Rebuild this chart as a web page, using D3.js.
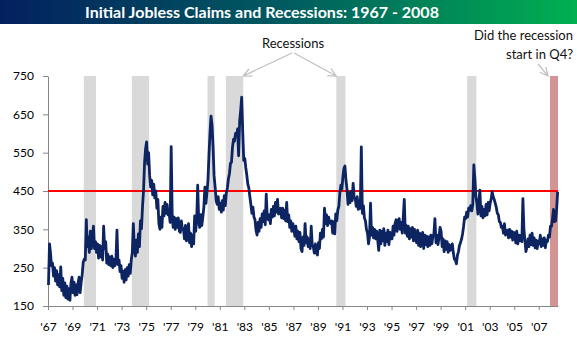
<!DOCTYPE html>
<html>
<head>
<meta charset="utf-8">
<script src="https://cdn.jsdelivr.net/npm/d3@7"></script>
<style>
  html, body { margin: 0; padding: 0; background: #ffffff; }
  svg { display: block; font-family: Lato, "Open Sans", "Noto Sans", sans-serif; }
</style>
</head>
<body>
<svg id="chart" width="577" height="340"></svg>
<script>
// Initial jobless claims (thousands), monthly readings starting January 1967
const startYear = 1967;

const claims1960s = [
  205, 312, 290, 255, 262, 228, 250, 215, 242, 205, 232, 200,
  252, 190, 222, 178, 210, 172, 202, 168, 195, 165, 210, 225,
  185, 212, 178, 205, 180, 210, 225, 185, 212, 232, 265, 272
];
const claims1970s = [
  270, 375, 305, 330, 290, 345, 300, 330, 358, 300, 318, 290,
  312, 275, 308, 278, 305, 270, 358, 300, 318, 262, 285, 258,
  278, 255, 280, 250, 272, 255, 268, 348, 258, 270, 240, 255,
  222, 240, 212, 245, 218, 250, 228, 258, 235, 270, 290, 365,
  300, 280, 322, 290, 338, 305, 372, 352, 410, 450, 525, 560,
  578, 520, 550, 490, 460, 478, 440, 468, 432, 450, 405, 428,
  365, 350, 382, 355, 410, 385, 420, 392, 415, 388, 392, 368,
  566, 385, 355, 382, 350, 378, 355, 380, 345, 342, 372, 350,
  352, 325, 360, 320, 345, 365, 315, 340, 305, 335, 312, 385,
  345, 378, 465, 370, 355, 388, 360, 382, 408, 460, 418, 445
];
const claims1980s = [
  478, 545, 600, 645, 622, 565, 490, 460, 425, 415, 435, 402,
  418, 395, 425, 400, 438, 412, 445, 458, 482, 495, 522, 525,
  565, 585, 580, 600, 595, 612, 542, 632, 660, 695, 605, 530,
  535, 510, 492, 468, 458, 435, 415, 392, 408, 382, 375, 348,
  335, 368, 345, 378, 355, 390, 370, 398, 362, 442, 380, 375,
  388, 365, 402, 382, 410, 385, 420, 395, 428, 390, 398, 405,
  380, 405, 378, 400, 372, 420, 370, 388, 355, 372, 345, 365,
  350, 332, 358, 325, 345, 318, 342, 300, 292, 330, 308, 365,
  315, 330, 305, 325, 300, 358, 308, 305, 288, 312, 290, 283,
  315, 300, 340, 325, 350, 330, 405, 365, 388, 360, 382, 368
];
const claims1990s = [
  365, 372, 340, 370, 338, 390, 372, 400, 410, 445, 465, 455,
  488, 510, 515, 478, 455, 415, 445, 420, 448, 425, 470, 432,
  430, 410, 435, 402, 425, 405, 565, 392, 412, 380, 372, 350,
  340, 312, 330, 418, 335, 355, 328, 350, 325, 345, 322, 295,
  348, 312, 345, 320, 352, 308, 340, 318, 348, 310, 342, 325,
  325, 358, 335, 365, 375, 345, 372, 378, 350, 368, 340, 382,
  428, 340, 360, 332, 358, 325, 352, 330, 355, 320, 350, 328,
  315, 348, 308, 340, 305, 330, 342, 300, 335, 310, 332, 305,
  330, 308, 335, 312, 332, 338, 378, 315, 335, 310, 330, 355,
  345, 305, 325, 292, 320, 298, 318, 290, 310, 295, 302, 312
];
const claims2000s = [
  288, 272, 270, 260, 282, 292, 308, 315, 325, 338, 358, 382,
  378, 395, 382, 405, 400, 412, 398, 415, 518, 485, 435, 418,
  390, 425, 452, 385, 410, 380, 402, 385, 415, 388, 420, 398,
  418, 430, 448, 435, 428, 418, 408, 392, 388, 370, 368, 355,
  358, 340, 365, 335, 342, 348, 328, 350, 330, 345, 322, 342,
  340, 315, 345, 312, 335, 320, 335, 318, 430, 352, 320, 292,
  305, 325, 305, 335, 310, 340, 308, 328, 302, 322, 300, 320,
  312, 335, 305, 325, 308, 328, 302, 322, 318, 335, 330, 358,
  358, 378, 402, 370, 372, 402, 448
];

// NBER recessions (start, end); the last one was not yet dated
const recessions = [
  ["1969-12-01", "1970-11-30"],
  ["1973-11-01", "1975-03-31"],
  ["1980-01-01", "1980-07-31"],
  ["1981-07-01", "1982-11-30"],
  ["1990-07-01", "1991-03-31"],
  ["2001-03-01", "2001-11-30"],
  ["2007-12-01", "2008-07-26"]
];

const threshold = 450;
const yTicks = [150, 250, 350, 450, 550, 650, 750];
const xTickYears = d3.range(1967, 2008, 2);
const titleText = "Initial Jobless Claims and Recessions: 1967 - 2008";

// ---- layout ----
const width = 577, height = 340;
const plot = { left: 48, right: 558, top: 76, bottom: 306 };

const svg = d3.select("#chart");
const parse = d3.timeParse("%Y-%m-%d");

const series = [].concat(claims1960s, claims1970s, claims1980s, claims1990s, claims2000s)
  .map((v, i) => ({ date: new Date(startYear, i, 15), value: v }));

const x = d3.scaleTime()
  .domain([new Date(1967, 0, 1), parse("2008-07-26")])
  .range([plot.left, plot.right]);
const y = d3.scaleLinear()
  .domain([150, 750])
  .range([plot.bottom, plot.top]);

// ---- title bar ----
const defs = svg.append("defs");
const grad = defs.append("linearGradient").attr("id", "titleGrad")
  .attr("x1", "0").attr("x2", "1").attr("y1", "0").attr("y2", "0");
grad.append("stop").attr("offset", "0").attr("stop-color", "#03205e");
grad.append("stop").attr("offset", "0.5").attr("stop-color", "#005c60");
grad.append("stop").attr("offset", "1").attr("stop-color", "#00b050");

svg.append("rect").attr("x", 0).attr("y", 0).attr("width", width).attr("height", 24)
  .attr("fill", "url(#titleGrad)");
svg.append("text").attr("x", 262).attr("y", 18)
  .attr("text-anchor", "middle").attr("fill", "#ffffff")
  .attr("font-weight", "bold").attr("font-size", 16)
  .text(titleText);

// ---- recession bands ----
svg.append("g").selectAll("rect").data(recessions).join("rect")
  .attr("x", d => x(parse(d[0])))
  .attr("width", d => x(parse(d[1])) - x(parse(d[0])))
  .attr("y", plot.top)
  .attr("height", plot.bottom - plot.top)
  .attr("fill", (d, i) => i === recessions.length - 1 ? "#d39494" : "#d9d9d9");

// ---- axes ----
const yAxis = svg.append("g").attr("transform", `translate(${plot.left},0)`)
  .call(d3.axisLeft(y).tickValues(yTicks).tickSize(5).tickSizeOuter(0).tickPadding(9));
const xAxis = svg.append("g").attr("transform", `translate(0,${plot.bottom})`)
  .call(d3.axisBottom(x)
    .tickValues(xTickYears.map(yr => new Date(yr, 0, 1)))
    .tickFormat(d => "'" + String(d.getFullYear()).slice(2))
    .tickSize(4).tickSizeOuter(0).tickPadding(12));
[yAxis, xAxis].forEach(g => {
  g.select(".domain").attr("stroke", "#868686");
  g.selectAll(".tick line").attr("stroke", "#868686");
  g.selectAll("text").attr("fill", "#000").attr("font-size", 12)
    .attr("font-family", "Lato, 'Open Sans', sans-serif");
});

// ---- 450K reference line ----
svg.append("line")
  .attr("x1", plot.left).attr("x2", plot.right)
  .attr("y1", y(threshold)).attr("y2", y(threshold))
  .attr("stroke", "#ff0000").attr("stroke-width", 2);

// ---- claims line ----
svg.append("path").datum(series)
  .attr("fill", "none")
  .attr("stroke", "#0c2461")
  .attr("stroke-width", 2.8)
  .attr("stroke-linejoin", "round")
  .attr("d", d3.line().x(d => x(d.date)).y(d => y(d.value)));

// ---- annotations ----
function arrow(x1, y1, x2, y2) {
  const a = Math.atan2(y2 - y1, x2 - x1), len = 9, spread = 0.45;
  const p = d3.path();
  p.moveTo(x1, y1); p.lineTo(x2, y2);
  p.moveTo(x2 - len * Math.cos(a - spread), y2 - len * Math.sin(a - spread));
  p.lineTo(x2, y2);
  p.lineTo(x2 - len * Math.cos(a + spread), y2 - len * Math.sin(a + spread));
  svg.append("path").attr("d", p.toString())
    .attr("fill", "none").attr("stroke", "#bfbfbf").attr("stroke-width", 1.2);
}

const note = svg.append("g").attr("font-size", 13).attr("fill", "#111");
note.append("text").attr("x", 293).attr("y", 48).attr("text-anchor", "middle").text("Recessions");
note.append("text").attr("x", 573).attr("y", 40).attr("text-anchor", "end").text("Did the recession");
note.append("text").attr("x", 573).attr("y", 59).attr("text-anchor", "end").text("start in Q4?");

arrow(292, 53, x(parse(recessions[3][1])), plot.top);
arrow(294, 53, x(parse(recessions[4][0])), plot.top);
arrow(538, 64, x(parse(recessions[6][0])) - 2, plot.top);
</script>
</body>
</html>
